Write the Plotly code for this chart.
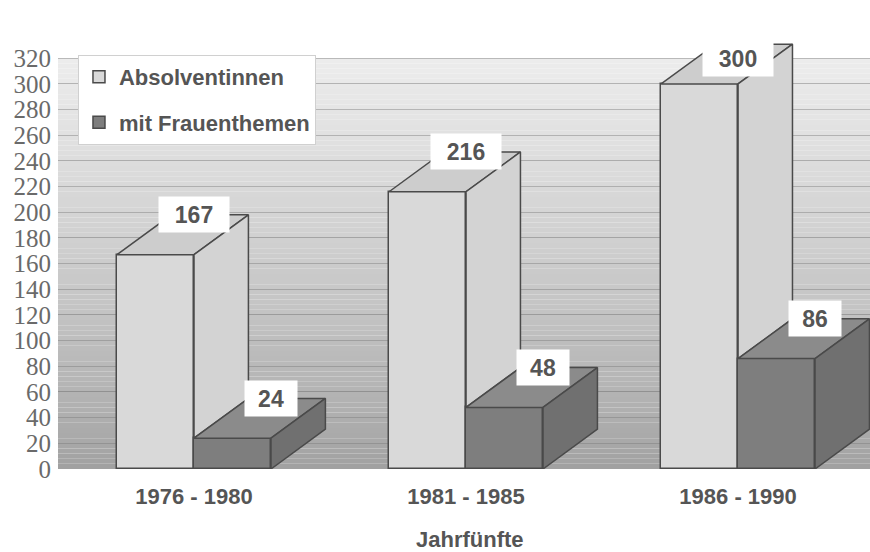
import plotly.graph_objects as go

categories = ["1976 - 1980", "1981 - 1985", "1986 - 1990"]
absolventinnen = [167, 216, 300]
frauenthemen = [24, 48, 86]
series_names = ["Absolventinnen", "mit Frauenthemen"]
y_ticks = list(range(0, 321, 20))

# geometry / style
W = 0.283          # bar width (category units)
DX = 0.2           # 3D depth offset in x (category units)
DY = 31            # 3D depth offset in y (value units)
OUT = "#4a4a4a"
LIGHT = dict(front="#d9d9d9", top="#cdcdcd", side="#d3d3d3")
DARK = dict(front="#7e7e7e", top="#8b8b8b", side="#707070")
TXT = "#555555"
SANS = "Liberation Sans, Arial, sans-serif"

xs = list(range(len(categories)))
fig = go.Figure()

# front faces as bars
fig.add_trace(go.Bar(x=xs, y=absolventinnen, width=W, offset=-W, name="<b>%s</b>" % series_names[0],
                     marker=dict(color=LIGHT["front"], line=dict(color=OUT, width=1.5)),
                     legendgroup="a", hoverinfo="y"))
fig.add_trace(go.Bar(x=xs, y=frauenthemen, width=W, offset=0, name="<b>%s</b>" % series_names[1],
                     marker=dict(color=DARK["front"], line=dict(color=OUT, width=1.5)),
                     legendgroup="b", hoverinfo="y"))


def poly(pts, color):
    fig.add_trace(go.Scatter(x=[p[0] for p in pts] + [pts[0][0]],
                             y=[p[1] for p in pts] + [pts[0][1]],
                             mode="lines", fill="toself", fillcolor=color,
                             line=dict(color=OUT, width=1.5),
                             showlegend=False, hoverinfo="skip"))


for c, h, d in zip(xs, absolventinnen, frauenthemen):
    L, R, D = c - W, c, c + W
    # light bar top and visible side
    poly([(L, h), (R, h), (R + DX, h + DY), (L + DX, h + DY)], LIGHT["top"])
    poly([(R, d), (R + DX, d + DY), (R + DX, h + DY), (R, h)], LIGHT["side"])
    # dark bar top and side
    poly([(R, d), (D, d), (D + DX, d + DY), (R + DX, d + DY)], DARK["top"])
    poly([(D, 0), (D + DX, DY), (D + DX, d + DY), (D, d)], DARK["side"])

# value labels
for c, h, d in zip(xs, absolventinnen, frauenthemen):
    for xv, val in ((c, h), (c + W, d)):
        txt = str(val)
        fig.add_annotation(x=xv, y=min(val + DY, 320), text="<b>%s</b>" % txt, showarrow=False,
                           bgcolor="white", width=18 * len(txt) + 14, height=33,
                           font=dict(family=SANS, size=23, color=TXT))

# gradient background stripes
N = 80
for i in range(N):
    f0 = i / N
    f = (i + 0.5) / N
    g = int(160 + (237 - 160) * (f ** 0.8))
    fig.add_shape(type="rect", xref="paper", x0=0, x1=1, yref="y",
                  y0=320 * f0, y1=320 * (i + 1) / N, layer="below",
                  fillcolor="rgb(%d,%d,%d)" % (g, g, g), line=dict(width=0))

fig.add_annotation(xref="paper", yref="paper", x=(470 - 58) / 812, y=-0.165,
                   text="<b>Jahrfünfte</b>", showarrow=False, yanchor="middle",
                   font=dict(family=SANS, size=22, color=TXT))

fig.update_layout(
    width=870, height=552,
    margin=dict(l=58, r=0, t=39, b=83, autoexpand=False),
    paper_bgcolor="white", plot_bgcolor="white",
    showlegend=True,
    legend=dict(x=0.0246, y=0.963, xanchor="left", yanchor="top",
                bgcolor="white", bordercolor="#d0d0d0", borderwidth=1,
                font=dict(family=SANS, size=22, color=TXT),
                traceorder="grouped", tracegroupgap=14,
                itemwidth=30),
    xaxis=dict(range=[-0.5, 2.485], tickmode="array", tickvals=xs, ticktext=["<b>%s</b>" % t for t in categories],
               showgrid=False, zeroline=False, showline=False, automargin=False,
               tickfont=dict(family=SANS, size=22, color=TXT), ticklabelstandoff=12),
    yaxis=dict(range=[0, 335], tickmode="array", tickvals=y_ticks, showgrid=True,
               gridcolor="rgba(80,80,80,0.35)", gridwidth=1, zeroline=False, showline=False,
               automargin=False,
               tickfont=dict(family="Liberation Serif, Times New Roman, serif", size=25, color="#6a6a6a"),
               ticklabelstandoff=6),
    bargap=0,
)

fig.write_html("out.html", config={"displayModeBar": False},
               post_script="document.body.style.margin='0';")
